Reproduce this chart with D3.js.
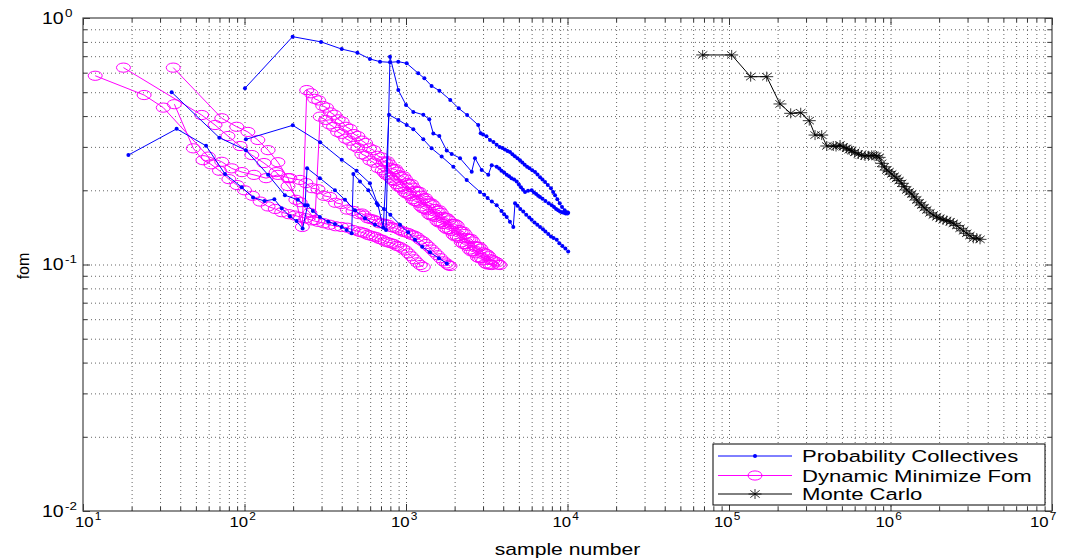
<!DOCTYPE html>
<html><head><meta charset="utf-8">
<script src="https://cdn.jsdelivr.net/npm/d3@7"></script>
<style>body{margin:0;background:#fff;} svg{display:block;font-family:"Liberation Sans",Arial,Helvetica,sans-serif;}</style>
</head><body><svg id="c" width="1071" height="559"></svg>
<script>
// ---------- data ----------
const xTickExps = [1,2,3,4,5,6,7];
const yTickExps = [-2,-1,0];
const seriesNames = ["Probability Collectives","Dynamic Minimize Fom","Monte Carlo"];
const xLabel = "sample number";
const yLabel = "fom";

// Probability Collectives runs [sample number, fom]
const pcRun1 = [[19.1,0.278],[38.0,0.355],[57.8,0.303],[75.7,0.233],[96.1,0.206],[113,0.187],[133,0.181],[153,0.184],[170,0.169],[191,0.157],[210,0.150],[229,0.140],[246,0.174],[265,0.165],[293,0.156],[330,0.149],[363,0.146],[400,0.142],[429,0.138],[461,0.134],[472,0.233],[519,0.217],[584,0.200],[659,0.177],[730,0.168],[800,0.159],[918,0.145],[1030,0.135],[1137,0.126],[1260,0.118],[1408,0.112],[1600,0.106],[1790,0.101]];
const pcRun2 = [[35.4,0.50],[69.8,0.327],[102,0.291],[140,0.231],[178,0.191],[214,0.183],[237,0.174],[244,0.246],[293,0.224],[363,0.200],[419,0.183],[483,0.166],[557,0.154],[643,0.145],[752,0.138],[796,0.697],[896,0.510],[1000,0.444],[1110,0.416],[1280,0.405],[1394,0.388],[1476,0.340],[1608,0.332],[1787,0.290],[1919,0.281],[2160,0.270],[2552,0.238],[2674,0.270],[2942,0.242],[3232,0.231],[3394,0.253],[3644,0.249],[3780,0.245],[3900,0.240],[4050,0.236],[4203,0.231],[4350,0.228],[4500,0.224],[4670,0.221],[4847,0.217],[5000,0.211],[5150,0.206],[5300,0.201],[5457,0.197],[5700,0.199],[6003,0.200],[6200,0.196],[6400,0.193],[6580,0.190],[6755,0.188],[7000,0.185],[7300,0.181],[7650,0.177],[7986,0.174],[8250,0.171],[8500,0.168],[8750,0.166],[8987,0.164],[9250,0.163],[9500,0.162],[9750,0.161],[10000,0.161]];
const pcRun3 = [[102,0.322],[199,0.367],[294,0.313],[400,0.266],[494,0.240],[598,0.2135],[671,0.174],[723,0.141],[785,0.405],[896,0.386],[1010,0.368],[1110,0.354],[1280,0.322],[1440,0.296],[1663,0.274],[1963,0.249],[2376,0.220],[2872,0.197],[3050,0.192],[3200,0.186],[3400,0.180],[3644,0.174],[3900,0.165],[4050,0.160],[4203,0.156],[4400,0.149],[4617,0.142],[4732,0.177],[4900,0.173],[5100,0.168],[5323,0.164],[5550,0.159],[5800,0.155],[6000,0.152],[6250,0.148],[6500,0.145],[6760,0.142],[7050,0.139],[7300,0.136],[7600,0.133],[7900,0.130],[8200,0.128],[8576,0.126],[8900,0.122],[9300,0.119],[9700,0.116],[10100,0.113]];
const pcRun4 = [[100.7,0.519],[198.6,0.840],[298,0.800],[400,0.748],[500,0.723],[598,0.682],[690,0.665],[796,0.661],[896,0.665],[1010,0.655],[1190,0.597],[1300,0.569],[1440,0.530],[1610,0.507],[1880,0.465],[2120,0.430],[2390,0.404],[2800,0.368],[2900,0.341],[3000,0.337],[3150,0.331],[3311,0.320],[3480,0.314],[3640,0.306],[3800,0.300],[3950,0.297],[4100,0.293],[4250,0.289],[4406,0.286],[4560,0.280],[4720,0.275],[4900,0.270],[5080,0.265],[5250,0.259],[5430,0.254],[5620,0.249],[5820,0.246],[6050,0.241],[6295,0.237],[6520,0.232],[6760,0.226],[7000,0.221],[7260,0.216],[7550,0.210],[7900,0.204],[8150,0.197],[8370,0.191],[8650,0.184],[8950,0.177],[9250,0.171],[9600,0.166],[9850,0.163],[10100,0.162]];

// Dynamic Minimize Fom runs
const dmRun1 = [[36.2,0.629],[72.3,0.392],[89.5,0.362],[105,0.345],[121,0.320],[140,0.291],[161,0.260],[186,0.224],[208,0.183],[228,0.142],[243,0.51],[258,0.495],[272,0.47],[288,0.463],[305,0.44],[322,0.433],[340,0.414],[360,0.405],[380,0.388],[402,0.38],[425,0.362],[450,0.355],[476,0.338],[503,0.332],[532,0.318],[562,0.311],[595,0.296],[630,0.291],[666,0.276],[705,0.272],[725,0.262],[746,0.259],[768,0.262],[790,0.255],[812,0.246],[836,0.243],[860,0.244],[885,0.238],[910,0.230],[937,0.226],[964,0.228],[992,0.222],[1020,0.214],[1050,0.211],[1080,0.212],[1111,0.205],[1143,0.199],[1176,0.198],[1210,0.197],[1245,0.19],[1281,0.185],[1318,0.186],[1356,0.181],[1395,0.177],[1435,0.177],[1476,0.174],[1518,0.168],[1562,0.165],[1607,0.166],[1653,0.162],[1700,0.156],[1749,0.155],[1800,0.154],[1851,0.151],[1904,0.146],[1959,0.146],[2015,0.146],[2073,0.144],[2132,0.138],[2194,0.136],[2257,0.136],[2322,0.133],[2389,0.128],[2457,0.127],[2528,0.127],[2600,0.124],[2675,0.119],[2752,0.118],[2831,0.118],[2912,0.116],[2996,0.112],[3082,0.111],[3170,0.110],[3262,0.108],[3356,0.105],[3452,0.104],[3550,0.103],[3650,0.102],[3735,0.100],[3820,0.0995]];
const dmRun2 = [[17.8,0.629],[54.3,0.404],[65.7,0.368],[79,0.332],[93.8,0.3025],[111,0.278],[132,0.258],[157,0.237],[186,0.208],[221,0.179],[254,0.162],[273,0.1515],[294,0.398],[318,0.386],[336,0.37],[356,0.362],[377,0.345],[399,0.339],[423,0.324],[448,0.318],[475,0.303],[503,0.297],[533,0.28],[565,0.276],[598,0.264],[634,0.259],[672,0.246],[712,0.241],[733,0.236],[754,0.231],[776,0.230],[799,0.225],[823,0.220],[847,0.218],[872,0.212],[897,0.207],[924,0.206],[951,0.203],[979,0.197],[1007,0.194],[1037,0.193],[1067,0.19],[1099,0.184],[1131,0.181],[1164,0.180],[1198,0.178],[1234,0.172],[1270,0.169],[1307,0.168],[1345,0.166],[1385,0.160],[1425,0.158],[1467,0.158],[1510,0.156],[1555,0.150],[1600,0.148],[1647,0.148],[1695,0.146],[1745,0.141],[1796,0.139],[1849,0.139],[1903,0.137],[1959,0.132],[2016,0.13],[2075,0.130],[2136,0.128],[2199,0.123],[2263,0.121],[2329,0.121],[2397,0.119],[2467,0.115],[2540,0.113],[2614,0.113],[2691,0.111],[2770,0.107],[2851,0.106],[2935,0.106],[3020,0.104],[3110,0.101],[3200,0.1],[3300,0.1],[3400,0.0995]];
const dmRun3 = [[11.9,0.583],[23.9,0.487],[31.4,0.433],[59.7,0.274],[72.3,0.261],[83.3,0.2455],[96.5,0.237],[114.5,0.231],[136,0.224],[161,0.231],[191,0.224],[220.7,0.2203],[240,0.214],[262,0.204],[285,0.202],[310,0.19],[337,0.188],[366,0.178],[398,0.176],[433,0.167],[470,0.165],[511,0.160],[533,0.161],[555,0.158],[579,0.154],[603,0.153],[629,0.152],[655,0.150],[683,0.147],[712,0.147],[742,0.146],[774,0.145],[807,0.142],[841,0.141],[877,0.140],[914,0.138],[953,0.136],[993,0.135],[1035,0.134],[1079,0.132],[1125,0.131],[1173,0.129],[1223,0.126],[1275,0.124],[1330,0.121],[1386,0.118],[1445,0.115],[1506,0.112],[1570,0.109],[1637,0.106],[1707,0.103],[1780,0.101],[1825,0.0995],[1873,0.0986]];
const dmRun4 = [[36.8,0.447],[48.2,0.296],[55.3,0.265],[62,0.255],[70,0.24],[80,0.222],[90,0.21],[100,0.2],[112,0.19],[125,0.18],[140,0.172],[155,0.168],[170,0.163],[188,0.16],[205,0.158],[220.7,0.156],[240,0.154],[262,0.151],[285,0.149],[310,0.147],[337,0.145],[366,0.143],[398,0.142],[433,0.141],[470,0.138],[511,0.136],[533,0.135],[555,0.134],[579,0.132],[603,0.131],[629,0.130],[655,0.129],[683,0.127],[712,0.126],[742,0.124],[774,0.123],[807,0.122],[841,0.121],[877,0.119],[914,0.118],[953,0.116],[993,0.114],[1035,0.111],[1079,0.108],[1125,0.105],[1173,0.102],[1225,0.0995],[1280,0.0977]];

// Monte Carlo
const mcRun = [[68700,0.708],[103900,0.708],[136200,0.578],[171200,0.578],[206900,0.448],[241000,0.4105],[278000,0.4128],[314000,0.3833],[341000,0.335],[375000,0.335],[403000,0.3025],[442000,0.3025],[460000,0.301],[487000,0.3053],[510000,0.300],[535000,0.296],[555000,0.292],[575000,0.2895],[600000,0.285],[632000,0.2807],[660000,0.278],[695000,0.2755],[730000,0.276],[765000,0.2773],[790000,0.277],[821000,0.2755],[850000,0.272],[882000,0.2573],[915000,0.249],[947000,0.2416],[980000,0.238],[1017000,0.2329],[1055000,0.228],[1092000,0.2237],[1130000,0.219],[1173000,0.2135],[1215000,0.207],[1260000,0.2005],[1305000,0.197],[1353000,0.1932],[1400000,0.188],[1453000,0.1827],[1505000,0.178],[1560000,0.1743],[1615000,0.170],[1676000,0.1664],[1755000,0.162],[1841000,0.1588],[1930000,0.156],[2025000,0.154],[2120000,0.152],[2228000,0.1506],[2340000,0.149],[2449000,0.1469],[2570000,0.144],[2694000,0.1402],[2830000,0.137],[2964000,0.1338],[3100000,0.131],[3257000,0.1277],[3420000,0.128],[3583000,0.1265]];

const pcRuns = [pcRun1, pcRun2, pcRun3, pcRun4];
const dmRuns = [dmRun1, dmRun2, dmRun3, dmRun4];
const mcRuns = [mcRun];

// ---------- drawing ----------
const L = 83, R = 1052, T = 18, B = 511;
const svg = d3.select("#c");
const x = d3.scaleLog().domain([10, 1e7]).range([L, R]);
const y = d3.scaleLog().domain([0.01, 1]).range([B, T]);

const xMajor = xTickExps.map(e => Math.pow(10, e));
const yMajor = yTickExps.map(e => Math.pow(10, e));
const xMinor = [], yMinor = [];
for (let e = xTickExps[0]; e < xTickExps[xTickExps.length-1]; e++) for (let k = 2; k <= 9; k++) xMinor.push(k*Math.pow(10,e));
for (let e = yTickExps[0]; e < yTickExps[yTickExps.length-1]; e++) for (let k = 2; k <= 9; k++) yMinor.push(+(k*Math.pow(10,e)).toPrecision(3));
const xGrid = xMajor.concat(xMinor).filter(v => v > 10 && v < 1e7);
const yGrid = yMajor.concat(yMinor).filter(v => v > 0.01 && v < 1);

svg.append("rect").attr("x",0).attr("y",0).attr("width",1071).attr("height",559).attr("fill","#fff");

function styleGrid(g){
  g.select(".domain").remove();
  g.selectAll("line").attr("stroke","#666").attr("stroke-width",1).attr("stroke-dasharray","1,3");
  g.selectAll("text").remove();
}
svg.append("g").attr("transform",`translate(0,${B})`)
  .call(d3.axisBottom(x).tickValues(xGrid).tickSize(-(B-T)).tickFormat("")).call(styleGrid);
svg.append("g").attr("transform",`translate(${L},0)`)
  .call(d3.axisLeft(y).tickValues(yGrid).tickSize(-(R-L)).tickFormat("")).call(styleGrid);

// ticks on all four sides
function styleTicks(g){
  g.select(".domain").remove();
  g.selectAll("line").attr("stroke","#333").attr("stroke-width",1);
  g.selectAll("text").remove();
}
[[xMinor,4],[xMajor,7]].forEach(([vals,s]) => {
  svg.append("g").attr("transform",`translate(0,${B})`).call(d3.axisBottom(x).tickValues(vals).tickSize(-s).tickFormat("")).call(styleTicks);
  svg.append("g").attr("transform",`translate(0,${T})`).call(d3.axisTop(x).tickValues(vals).tickSize(-s).tickFormat("")).call(styleTicks);
});
[[yMinor,4],[yMajor,7]].forEach(([vals,s]) => {
  svg.append("g").attr("transform",`translate(${L},0)`).call(d3.axisLeft(y).tickValues(vals).tickSize(-s).tickFormat("")).call(styleTicks);
  svg.append("g").attr("transform",`translate(${R},0)`).call(d3.axisRight(y).tickValues(vals).tickSize(-s).tickFormat("")).call(styleTicks);
});

// clip
svg.append("defs").append("clipPath").attr("id","clip").append("rect")
  .attr("x",L).attr("y",T).attr("width",R-L).attr("height",B-T);
const plot = svg.append("g").attr("clip-path","url(#clip)");
const line = d3.line().x(d => x(d[0])).y(d => y(d[1]));

const starPath = (a,b) => `M${-a},0L${a},0M0,${-b}L0,${b}M${-a*0.72},${-b*0.72}L${a*0.72},${b*0.72}M${-a*0.72},${b*0.72}L${a*0.72},${-b*0.72}`;

// Dynamic Minimize Fom
dmRuns.forEach(run => {
  const g = plot.append("g");
  g.append("path").attr("d", line(run)).attr("fill","none").attr("stroke","#ff00ff").attr("stroke-width",1);
  g.selectAll("ellipse").data(run).join("ellipse")
    .attr("cx", d => x(d[0])).attr("cy", d => y(d[1])).attr("rx",7).attr("ry",4.6)
    .attr("fill","none").attr("stroke","#ff00ff").attr("stroke-width",1);
});
// Probability Collectives
pcRuns.forEach(run => {
  const g = plot.append("g");
  g.append("path").attr("d", line(run)).attr("fill","none").attr("stroke","#0000ff").attr("stroke-width",1);
  g.selectAll("circle").data(run).join("circle")
    .attr("cx", d => x(d[0])).attr("cy", d => y(d[1])).attr("r",2).attr("fill","#0000ff");
});
// Monte Carlo
mcRuns.forEach(run => {
  const g = plot.append("g");
  g.append("path").attr("d", line(run)).attr("fill","none").attr("stroke","#000").attr("stroke-width",1);
  g.selectAll("path.star").data(run).join("path").attr("class","star")
    .attr("transform", d => `translate(${x(d[0])},${y(d[1])})`)
    .attr("d", starPath(6.5,5)).attr("fill","none").attr("stroke","#000").attr("stroke-width",0.8);
});

// box
svg.append("rect").attr("x",L).attr("y",T).attr("width",R-L).attr("height",B-T)
  .attr("fill","none").attr("stroke","#444").attr("stroke-width",1.2);

// x tick labels
xTickExps.forEach(e => {
  const v = Math.pow(10,e);
  let sx = x(v) - 15;
  sx = Math.max(sx, 75); sx = Math.min(sx, 1030);
  const t = svg.append("text").attr("transform",`translate(${sx},527) scale(1.08,1)`)
    .attr("font-size",15.5).attr("fill","#000");
  t.append("tspan").text("10");
  t.append("tspan").attr("font-size",11).attr("dy",-7).attr("dx",1).text(String(e));
});
// y tick labels
yTickExps.forEach(e => {
  const v = Math.pow(10,e);
  const t = svg.append("text").attr("transform",`translate(42,${y(v)+5.5}) scale(1.22,1)`)
    .attr("font-size",16).attr("fill","#000");
  t.append("tspan").text("10");
  t.append("tspan").attr("font-size",11).attr("dy",-7).attr("dx",1).text(e < 0 ? "-" + (-e) : String(e));
});
// axis labels
svg.append("text").attr("transform",`translate(${(L+R)/2},555) scale(1.32,1)`)
  .attr("text-anchor","middle").attr("font-size",16).attr("fill","#000").text(xLabel);
svg.append("text").attr("transform",`translate(29,266) rotate(-90)`)
  .attr("text-anchor","middle").attr("font-size",16).attr("fill","#000").text(yLabel);

// legend
const lg = svg.append("g");
lg.append("rect").attr("x",713).attr("y",444).attr("width",332).attr("height",61)
  .attr("fill","#fff").attr("stroke","#000").attr("stroke-width",1);
const rowsY = [456, 475.5, 494];
const colors = ["#0000ff","#ff00ff","#000"];
seriesNames.forEach((name,i) => {
  const ry = rowsY[i];
  lg.append("line").attr("x1",718).attr("x2",792).attr("y1",ry).attr("y2",ry).attr("stroke",colors[i]).attr("stroke-width",1);
  if (i === 0) lg.append("circle").attr("cx",755).attr("cy",ry).attr("r",2).attr("fill",colors[i]);
  if (i === 1) lg.append("ellipse").attr("cx",755).attr("cy",ry).attr("rx",7).attr("ry",4.6).attr("fill","none").attr("stroke",colors[i]);
  if (i === 2) lg.append("path").attr("transform",`translate(755,${ry})`).attr("d",starPath(6.5,5)).attr("fill","none").attr("stroke","#000").attr("stroke-width",0.8);
  lg.append("text").attr("transform",`translate(802,${ry+6}) scale(1.34,1)`)
    .attr("font-size",16.5).attr("fill","#000").text(name);
});
</script></body></html>
